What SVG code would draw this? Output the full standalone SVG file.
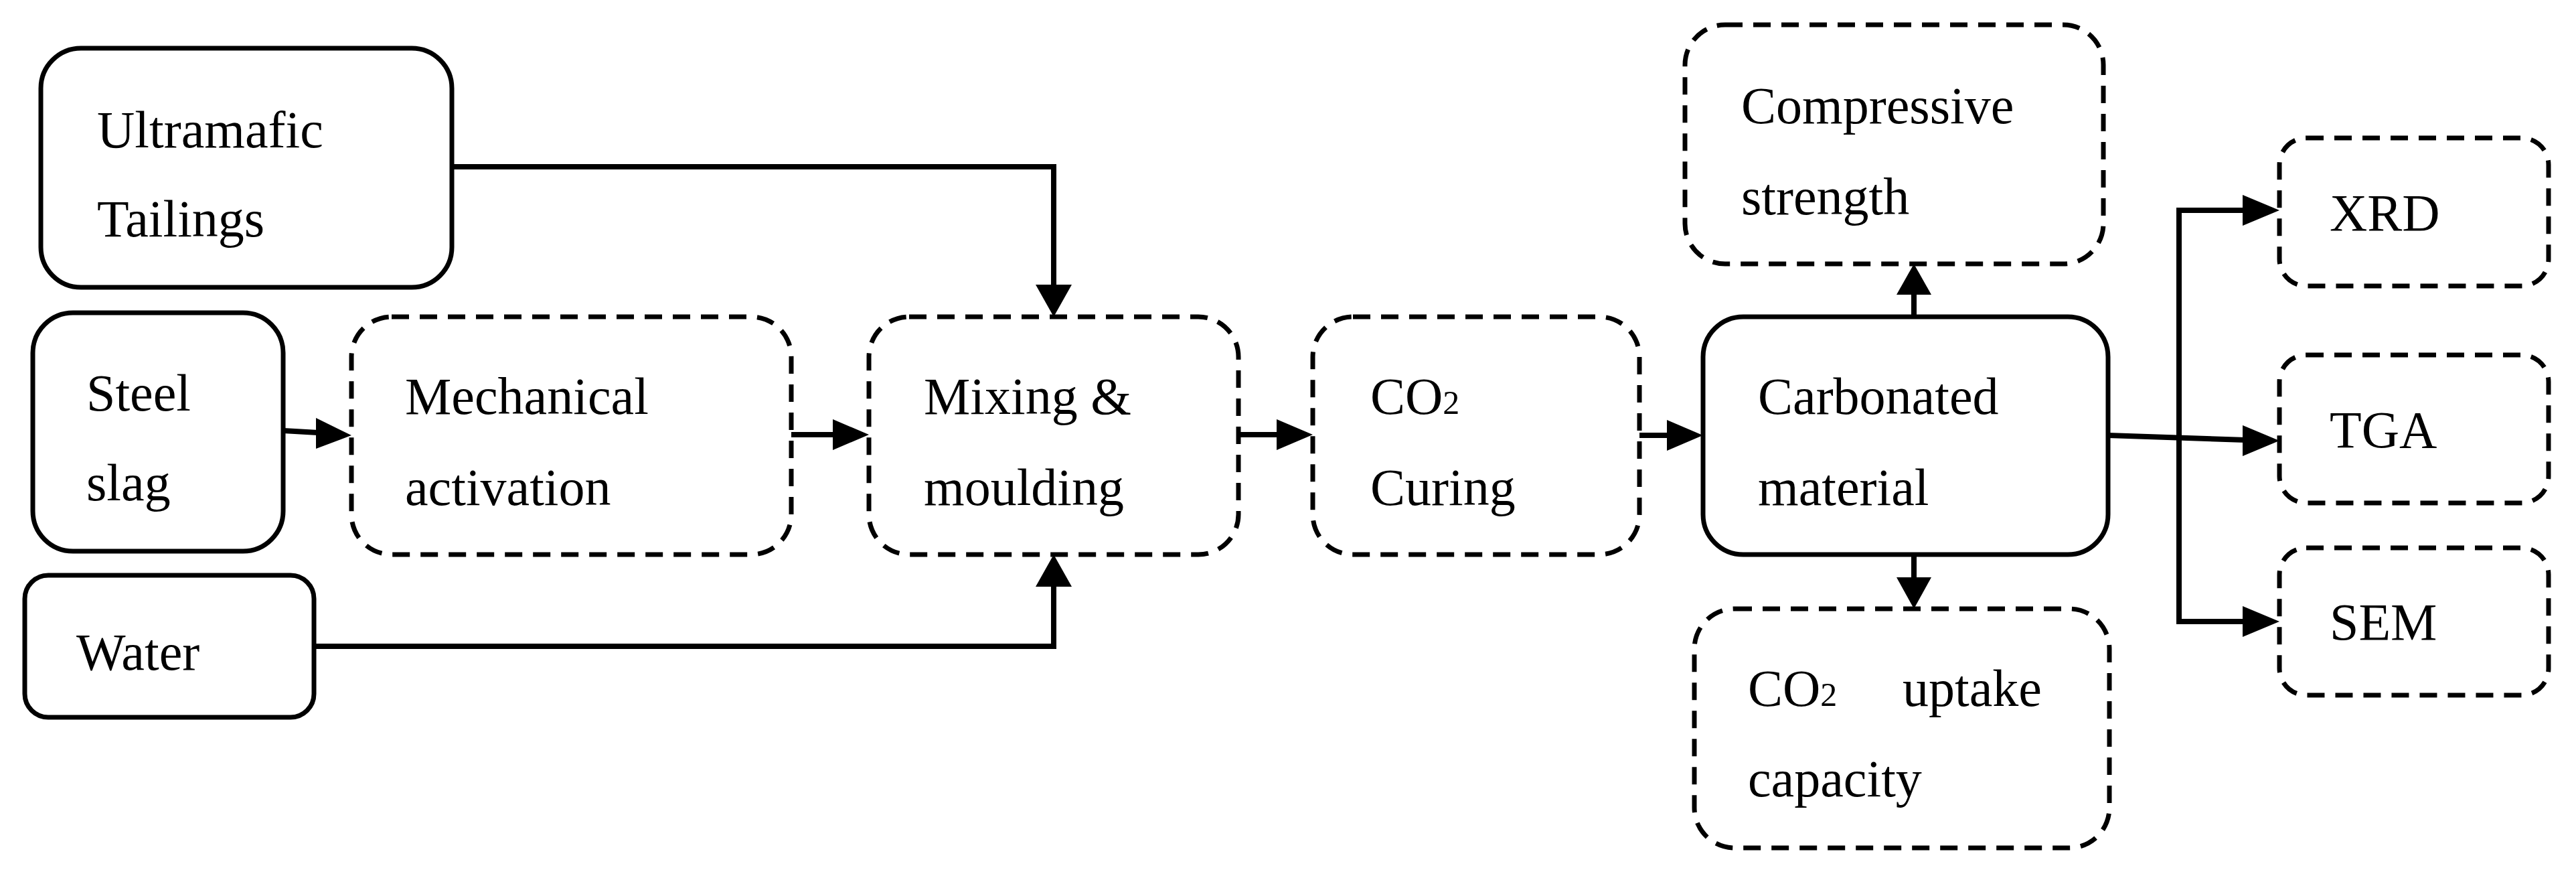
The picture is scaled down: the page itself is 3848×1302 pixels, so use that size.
<svg xmlns="http://www.w3.org/2000/svg" width="3848" height="1302" viewBox="0 0 3848 1302">
<style>
.s{fill:none;stroke:#000;stroke-width:7}
.d{fill:none;stroke:#000;stroke-width:7;stroke-dasharray:26 16}
text{font-family:"Liberation Serif",serif;font-size:78px;fill:#000}
.c{fill:none;stroke:#000;stroke-width:8}
.h{fill:#000}
</style>
<rect width="3848" height="1302" fill="#fff"/>
<g id="ultramafic"><rect class="s" x="61" y="72" width="614" height="357" rx="60"/><text x="145" y="220">Ultramafic</text><text x="145" y="353">Tailings</text></g>
<g id="steel"><rect class="s" x="49" y="467" width="374" height="356" rx="60"/><text x="129" y="613">Steel</text><text x="129" y="747">slag</text></g>
<g id="water"><rect class="s" x="37" y="859" width="432" height="212" rx="35"/><text x="114" y="1000">Water</text></g>
<g id="mech"><rect class="d" x="525" y="473" width="657" height="355" rx="60"/><text x="605" y="618">Mechanical</text><text x="605" y="754">activation</text></g>
<g id="mix"><rect class="d" x="1298" y="473" width="552" height="355" rx="60"/><text x="1380" y="618">Mixing &amp;</text><text x="1380" y="754">moulding</text></g>
<g id="curing"><rect class="d" x="1961" y="473" width="488" height="355" rx="60"/><text x="2047" y="618">CO<tspan font-size="50">2</tspan></text><text x="2047" y="754">Curing</text></g>
<g id="carb"><rect class="s" x="2544" y="473" width="605" height="355" rx="60"/><text x="2626" y="618">Carbonated</text><text x="2626" y="754">material</text></g>
<g id="comp"><rect class="d" x="2517" y="37" width="625" height="357" rx="60"/><text x="2601" y="184">Compressive</text><text x="2601" y="320">strength</text></g>
<g id="uptake"><rect class="d" x="2531" y="909" width="620" height="357" rx="60"/><text x="2611" y="1054">CO<tspan font-size="50">2</tspan></text><text x="2842" y="1054">uptake</text><text x="2611" y="1189">capacity</text></g>
<g id="xrd"><rect class="d" x="3405" y="206" width="402" height="221" rx="40"/><text x="3480" y="344">XRD</text></g>
<g id="tga"><rect class="d" x="3405" y="530" width="402" height="221" rx="40"/><text x="3480" y="668">TGA</text></g>
<g id="sem"><rect class="d" x="3405" y="818" width="402" height="220" rx="40"/><text x="3480" y="955">SEM</text></g>
<g id="connectors">
<polyline class="c" points="675,249 1574,249 1574,430"/><polygon class="h" points="1547,425 1601,425 1574,473"/>
<polyline class="c" points="469,965 1574,965 1574,870"/><polygon class="h" points="1547,876 1601,876 1574,828"/>
<line class="c" x1="423" y1="643" x2="475" y2="646"/><polygon class="h" points="472,624 472,670 525,650"/>
<line class="c" x1="1182" y1="649" x2="1248" y2="649"/><polygon class="h" points="1244,626 1244,672 1298,649"/>
<line class="c" x1="1850" y1="649" x2="1912" y2="649"/><polygon class="h" points="1907,626 1907,672 1961,649"/>
<line class="c" x1="2449" y1="650" x2="2495" y2="650"/><polygon class="h" points="2490,627 2490,673 2544,650"/>
<line class="c" x1="2859" y1="473" x2="2859" y2="430"/><polygon class="h" points="2833,440 2885,440 2859,394"/>
<line class="c" x1="2859" y1="828" x2="2859" y2="870"/><polygon class="h" points="2833,862 2885,862 2859,909"/>
<polyline class="c" points="3352,314 3255,314 3255,928 3352,928"/>
<polygon class="h" points="3350,291 3350,337 3405,314"/><polygon class="h" points="3350,905 3350,951 3405,928"/>
<line class="c" x1="3149" y1="650" x2="3355" y2="657"/><polygon class="h" points="3350,635 3350,681 3405,658"/>
</g>
</svg>
